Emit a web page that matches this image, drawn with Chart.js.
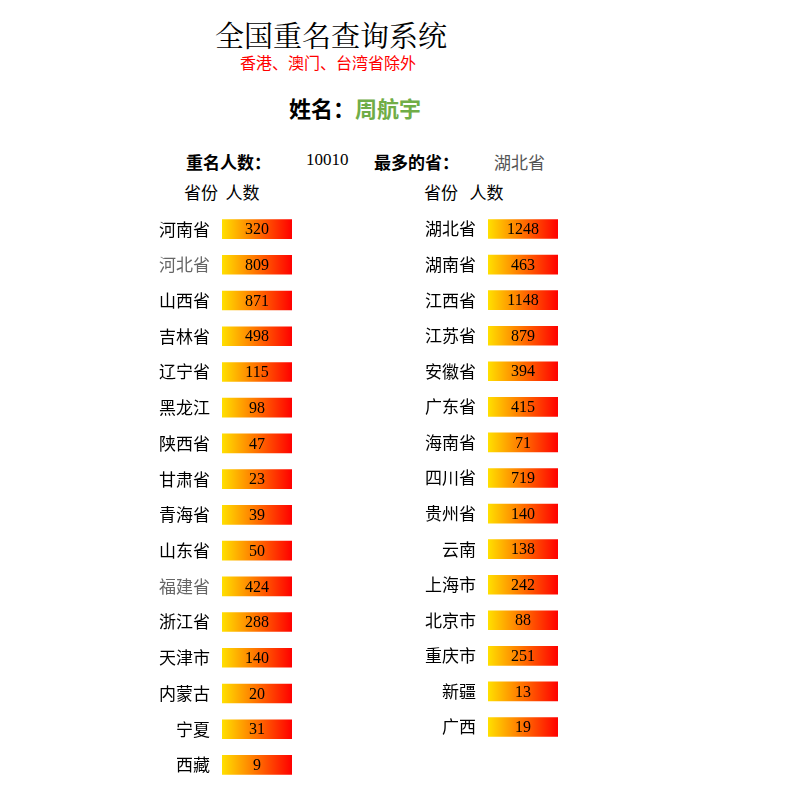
<!DOCTYPE html>
<html><head><meta charset="utf-8">
<script src="https://cdn.jsdelivr.net/npm/chart.js@4/dist/chart.umd.min.js"></script>
<style>
body{margin:0;width:800px;height:800px;background:#fff;position:relative;font-family:"Noto Sans CJK SC",sans-serif;}
.t{position:absolute;white-space:nowrap;}
.box{position:absolute;}
</style></head><body>
<div class="t" style="left:215px;top:14px;font-size:29px;font-family:'Noto Serif CJK SC','Noto Sans CJK SC';">全国重名查询系统</div>
<div class="t" style="left:240px;top:50px;font-size:16px;color:#ff0000;">香港、澳门、台湾省除外</div>
<div class="t" style="left:289px;top:91px;font-size:22px;font-weight:bold;">姓名：<span style="color:#70ad47">周航宇</span></div>
<div class="t" style="left:186px;top:149px;font-size:17px;font-weight:bold;">重名人数：</div>
<div class="t" style="left:306px;top:150px;font-size:17px;font-family:'Liberation Serif';">10010</div>
<div class="t" style="left:374px;top:149px;font-size:17px;font-weight:bold;">最多的省：</div>
<div class="t" style="left:494px;top:149px;font-size:17px;color:#555;">湖北省</div>
<div class="t" style="left:184px;top:179px;font-size:17px;">省份&nbsp;&nbsp;人数</div>
<div class="t" style="left:424px;top:179px;font-size:17px;">省份&nbsp;&nbsp;&nbsp;人数</div>
<div class="box" style="left:100px;top:197px;width:192px;height:600px;"><canvas id="cL"></canvas></div>
<div class="box" style="left:366px;top:197px;width:192px;height:562px;"><canvas id="cR"></canvas></div>
<script>
const leftProvinces = ['河南省','河北省','山西省','吉林省','辽宁省','黑龙江','陕西省','甘肃省','青海省','山东省','福建省','浙江省','天津市','内蒙古','宁夏','西藏'];
const leftCounts = [320,809,871,498,115,98,47,23,39,50,424,288,140,20,31,9];
const rightProvinces = ['湖北省','湖南省','江西省','江苏省','安徽省','广东省','海南省','四川省','贵州省','云南','上海市','北京市','重庆市','新疆','广西'];
const rightCounts = [1248,463,1148,879,394,415,71,719,140,138,242,88,251,13,19];
const greyLabels = ['河北省','福建省'];

const valueLabels = {
  id: 'valueLabels',
  afterDatasetsDraw(chart) {
    const ctx = chart.ctx;
    const counts = chart.options.plugins.valueLabels.counts;
    ctx.save();
    ctx.fillStyle = '#000';
    ctx.font = "16px 'Liberation Serif'";
    ctx.textAlign = 'center';
    ctx.textBaseline = 'middle';
    chart.getDatasetMeta(0).data.forEach((bar, i) => {
      ctx.fillText(counts[i], (bar.x + bar.base) / 2, bar.y + 1);
    });
    ctx.restore();
  }
};

function make(id, labels, counts) {
  new Chart(document.getElementById(id), {
    type: 'bar',
    data: {
      labels: labels,
      datasets: [{
        data: labels.map(() => [0, 1]),
        barThickness: 19,
        backgroundColor: (c) => {
          const a = c.chart.chartArea;
          if (!a) return '#ff8000';
          const g = c.chart.ctx.createLinearGradient(a.left, 0, a.right, 0);
          g.addColorStop(0, '#ffe000');
          g.addColorStop(1, '#ff0000');
          return g;
        }
      }]
    },
    options: {
      indexAxis: 'y',
      animation: false,
      responsive: true,
      maintainAspectRatio: false,
      layout: { padding: 0 },
      plugins: { legend: { display: false }, tooltip: { enabled: false }, valueLabels: { counts: counts } },
      scales: {
        x: { display: false, min: 0, max: 1 },
        y: {
          grid: { display: false }, border: { display: false },
          afterFit: (s) => { s.width = 122; },
          ticks: {
            padding: 4,
            font: { size: 17, family: "'Noto Sans CJK SC'" },
            color: (c) => greyLabels.includes(labels[c.index]) ? '#666' : '#000'
          }
        }
      }
    },
    plugins: [valueLabels]
  });
}
make('cL', leftProvinces, leftCounts);
make('cR', rightProvinces, rightCounts);
</script>
</body></html>
